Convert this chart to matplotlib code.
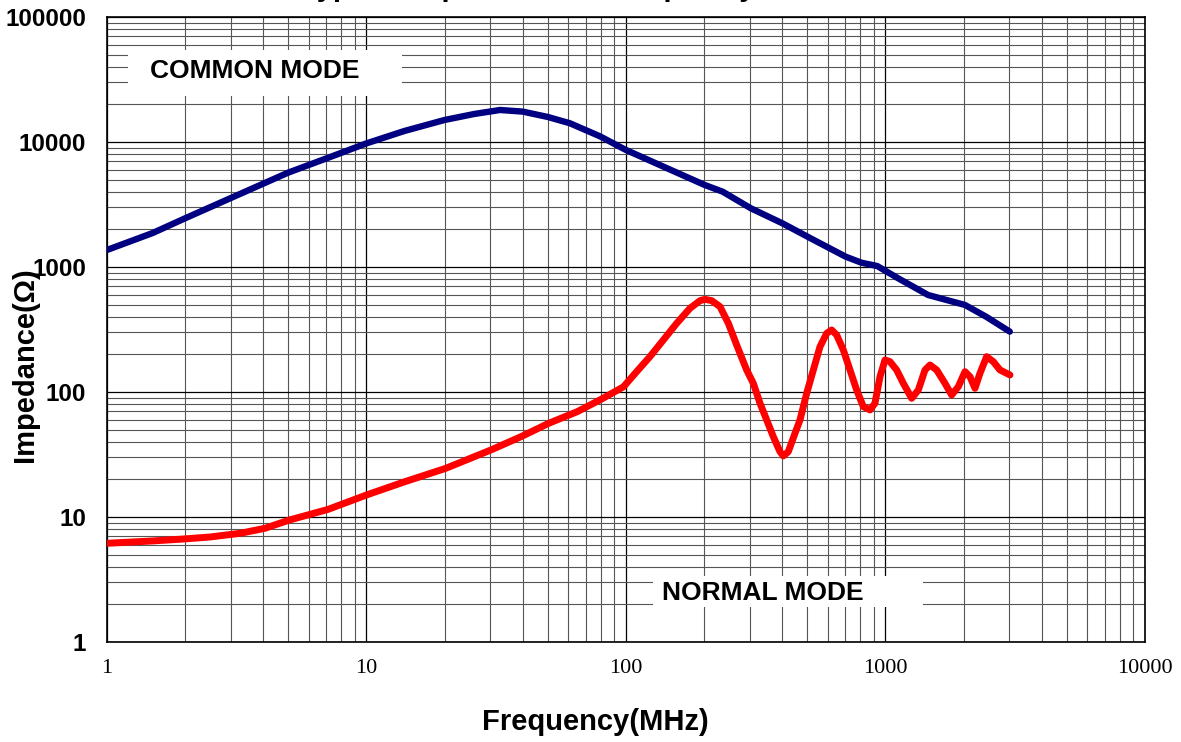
import matplotlib
matplotlib.use("Agg")
import matplotlib.pyplot as plt
from matplotlib.ticker import LogLocator, NullFormatter, FixedLocator, FixedFormatter

# common mode impedance
cm_freq = [1, 1.5, 2.0, 2.98, 4.99, 7.02, 10, 14, 20, 26, 32.7, 40, 50, 60.8, 79.4, 100,
           201, 236, 303, 401, 514, 702, 807, 929, 1119, 1459, 2023, 2444, 3013]
cm_z = [1368, 1870, 2452, 3540, 5685, 7400, 9750, 12250, 15000, 16750, 18030, 17500, 15850,
        14120, 11100, 8630, 4530, 4000, 2946, 2234, 1698, 1210, 1083, 1018, 812, 597, 497,
        400, 304]

# normal mode impedance
nm_freq = [1, 1.5, 1.98, 2.5, 3.27, 4.06, 5.05, 7.11, 10, 14.1, 20.2, 30.2, 39.4, 50.4,
           64.9, 80.2, 97.8, 109.9, 123.7, 139.3, 156.8, 176.4, 192.9, 201.6, 213.9, 230.3,
           248.0, 267.0, 291.7, 309.5, 328.5, 348.5, 369.6, 392.1, 403.9, 422.2, 448.0,
           468.3, 496.9, 527.2, 559.3, 593.4, 620.3, 648.4, 687.9, 729.9, 774.3, 821.5,
           871.6, 910.9, 952.4, 995.6, 1040.6, 1104.0, 1171.5, 1261.5, 1338.4, 1419.9,
           1484.4, 1574.8, 1695.6, 1798.9, 1908.5, 2024.8, 2116.5, 2212.5, 2312.7, 2453.4,
           2603.0, 2761.6, 3018]
nm_z = [6.16, 6.43, 6.67, 6.92, 7.41, 8.12, 9.46, 11.5, 15.0, 19.2, 24.5, 34.4, 43.9, 56.2,
        69.6, 87.4, 110, 145.4, 191.8, 260.6, 354.3, 467.0, 537.9, 551.2, 537.9, 481.6,
        354.3, 237.7, 150.0, 117.3, 81.2, 59.7, 43.9, 33.3, 30.8, 33.3, 46.7, 59.7, 97.6,
        150.0, 230.5, 294.6, 313.3, 285.8, 216.8, 150.0, 103.7, 76.3, 71.8, 81.2, 132.6,
        180.3, 174.9, 150.0, 117.3, 89.0, 103.7, 150.0, 164.4, 150.0, 117.3, 94.6, 110.3,
        145.4, 132.6, 107.0, 141.1, 191.8, 174.9, 150.0, 136.8]

y_ticks = [1, 10, 100, 1000, 10000, 100000]
x_ticks = [1, 10, 100, 1000, 10000]

fig = plt.figure(figsize=(11.81, 7.42), dpi=100)
ax = fig.add_axes([0.0906, 0.1348, 0.8789, 0.8423])

ax.plot(cm_freq, cm_z, color="#000080", lw=4.6, solid_joinstyle="round",
        solid_capstyle="round", zorder=3)
ax.plot(nm_freq, nm_z, color="#ff0000", lw=5.0, solid_joinstyle="round",
        solid_capstyle="round", zorder=3)

ax.set_xscale("log")
ax.set_yscale("log")
ax.set_xlim(1, 10000)
ax.set_ylim(1, 100000)

ax.xaxis.set_major_locator(FixedLocator(x_ticks))
ax.xaxis.set_major_formatter(FixedFormatter([str(v) for v in x_ticks]))
ax.yaxis.set_major_locator(FixedLocator(y_ticks))
ax.yaxis.set_major_formatter(FixedFormatter([str(v) for v in y_ticks]))
for a in (ax.xaxis, ax.yaxis):
    a.set_minor_locator(LogLocator(base=10, subs=range(2, 10), numticks=20))
    a.set_minor_formatter(NullFormatter())

ax.grid(which="major", color="black", lw=0.9)
ax.grid(which="minor", color="#555555", lw=0.8)
ax.set_axisbelow(True)
ax.tick_params(which="both", length=0)
ax.tick_params(axis="x", pad=12)
ax.tick_params(axis="y", pad=15)
for s in ax.spines.values():
    s.set_linewidth(1.2)
    s.set_color("black")

for lbl in ax.get_xticklabels():
    lbl.set_fontfamily("Liberation Serif")
    lbl.set_fontsize(16)
for lbl in ax.get_yticklabels():
    lbl.set_fontfamily("Liberation Sans")
    lbl.set_fontweight("bold")
    lbl.set_fontsize(17.5)

# boxed labels
ax.add_patch(plt.Rectangle((0.020, 0.874), 0.264, 0.073, transform=ax.transAxes,
                           facecolor="white", edgecolor="none", zorder=2))
ax.text(0.1426, 0.914, "COMMON MODE", transform=ax.transAxes, ha="center", va="center",
        fontsize=19, fontweight="bold", family="Liberation Sans", zorder=4)
ax.add_patch(plt.Rectangle((0.526, 0.056), 0.260, 0.050, transform=ax.transAxes,
                           facecolor="white", edgecolor="none", zorder=2))
ax.text(0.632, 0.078, "NORMAL MODE", transform=ax.transAxes, ha="center", va="center",
        fontsize=19, fontweight="bold", family="Liberation Sans", zorder=4)

# title sits above the top edge, only its descenders show
fig.text(0.447, 1.006, "Typical Impedance vs Frequency", ha="center", va="baseline",
         fontsize=21, fontweight="bold", family="Liberation Sans")
fig.text(0.504, 0.027, "Frequency(MHz)", ha="center", va="center",
         fontsize=21, fontweight="bold", family="Liberation Sans")
fig.text(0.021, 0.508, "Impedance(\u03a9)", ha="center", va="center", rotation=90,
         fontsize=21, fontweight="bold", family="Liberation Sans")

fig.savefig("out.png", dpi=100)
